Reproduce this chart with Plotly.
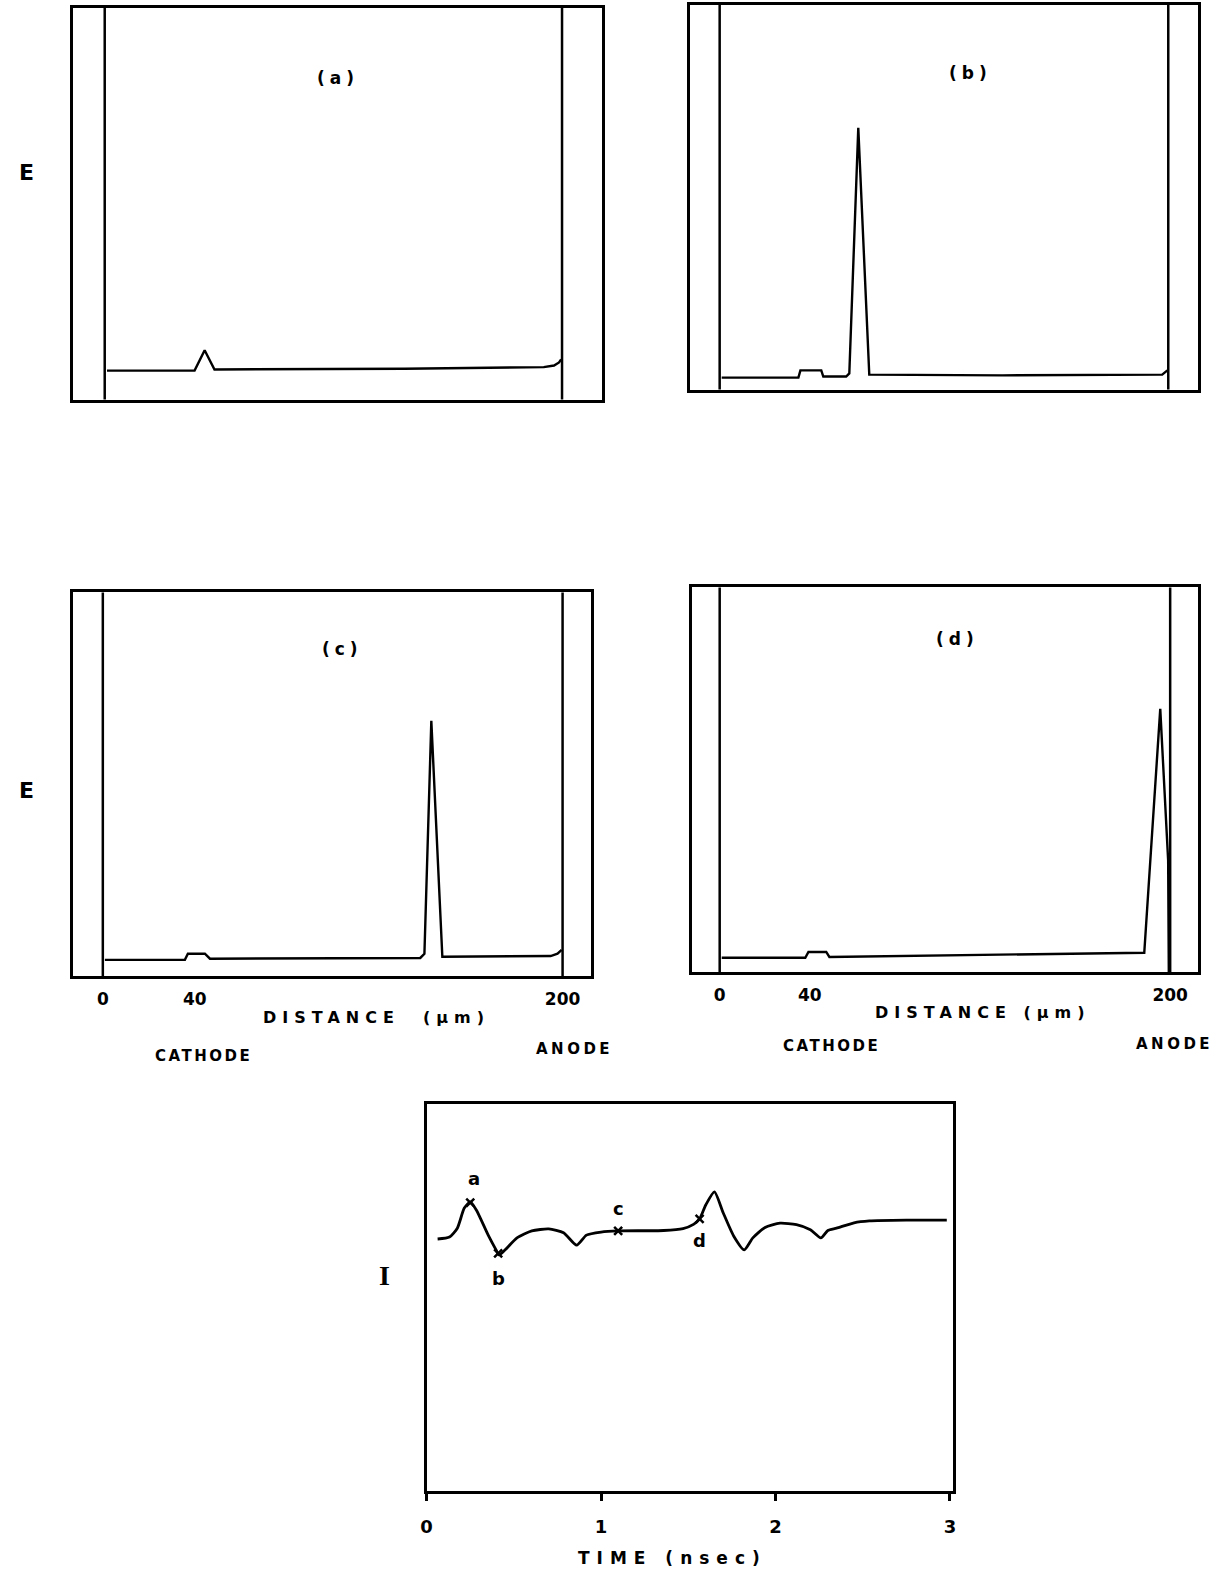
import plotly.graph_objects as go

# ---------------- data ----------------
# Electric field profiles E(x) across the device (arbitrary units), x in micrometres
x_a = [1, 39.3, 43.7, 48, 131, 192, 196.5, 198.7, 199.6]
E_a = [7.4, 7.4, 12.6, 7.7, 7.9, 8.3, 8.7, 9.5, 10.3]

x_b = [0.9, 35.1, 36.0, 45.3, 46.2, 56.4, 57.8, 61.8, 66.7, 126, 197.3, 199.6]
E_b = [3.1, 3.1, 5.0, 5.0, 3.4, 3.4, 4.2, 68.1, 3.9, 3.7, 3.9, 5.0]

x_c = [0.9, 35.7, 37.0, 44.4, 46.6, 138.1, 139.9, 142.9, 147.7, 194.8, 197.8, 199.6]
E_c = [4.2, 4.2, 5.8, 5.8, 4.5, 4.7, 5.8, 66.5, 5.0, 5.2, 5.8, 6.8]

x_d = [0.9, 38.0, 39.4, 47.3, 48.7, 188.5, 195.6, 199.1, 199.4]
E_d = [3.7, 3.7, 5.2, 5.2, 3.9, 5.0, 68.4, 29.0, 0.0]

# Terminal current I(t) (arbitrary units), t in ns
t_e = [0.063, 0.131, 0.176, 0.216, 0.25, 0.285, 0.353, 0.398, 0.415, 0.45, 0.518,
       0.603, 0.70, 0.785, 0.86, 0.916, 1.0, 1.098, 1.359, 1.47, 1.53, 1.565,
       1.60, 1.65, 1.70, 1.76, 1.821, 1.87, 1.94, 2.026, 2.12, 2.20, 2.26, 2.30,
       2.35, 2.45, 2.538, 2.75, 2.982]
I_e = [65.2, 65.7, 68.0, 73.2, 74.8, 72.7, 66.2, 62.4, 61.1, 62.4, 65.5,
       67.3, 67.8, 66.8, 63.6, 66.2, 67.0, 67.3, 67.4, 67.9, 69.0, 70.4,
       74.0, 77.4, 72.0, 66.0, 62.4, 65.5, 68.2, 69.3, 68.9, 67.6, 65.5, 67.4,
       68.0, 69.4, 69.9, 70.1, 70.1]

# Instants marked on the current curve, matching snapshots (a)-(d)
mark_names = ["a", "b", "c", "d"]
mark_t = [0.25, 0.41, 1.098, 1.565]
mark_I = [74.6, 61.5, 67.3, 70.4]

electrode_um = [0, 200]
dist_tickvals = [0, 40, 200]
dist_ticktext = ["0", "40", "200"]
time_tickvals = [0, 1, 2, 3]
time_ticktext = ["0", "1", "2", "3"]
panel_labels = ["(a)", "(b)", "(c)", "(d)"]

# ---------------- layout helpers ----------------
W, H = 1231, 1574
S = 1231 / 1226.0


def fx(p):
    return p * S / W


def fy(p):
    return 1 - p * S / H


FONT = "DejaVu Sans"
BLACK = "black"

fig = go.Figure()

# panel boxes in reference pixels (x0, x1, ytop, ybot) and x ranges
boxes = [
    (67, 598, 8, 398, [-13.97, 217.5]),
    (686, 1196, 5, 388, [-13.33, 213.3]),
    (67, 587, 590, 972, [-13.07, 212.4]),
    (688, 1196, 585, 968, [-12.4, 212.4]),
    (422, 950, 1100, 1485, [0, 3.017]),
]

series = [(x_a, E_a), (x_b, E_b), (x_c, E_c), (x_d, E_d), (t_e, I_e)]

for i, ((x0, x1, yt, yb, xr), (xs, ys)) in enumerate(zip(boxes, series)):
    n = i + 1
    xa = "x" if n == 1 else f"x{n}"
    ya = "y" if n == 1 else f"y{n}"
    line = dict(color=BLACK, width=2.8 if n == 5 else 2.4)
    if n == 5:
        line.update(shape="spline", smoothing=0.6)
    fig.add_trace(go.Scatter(x=xs, y=ys, mode="lines", xaxis=xa, yaxis=ya,
                             line=line, showlegend=False, hoverinfo="skip"))
    xkey = "xaxis" if n == 1 else f"xaxis{n}"
    ykey = "yaxis" if n == 1 else f"yaxis{n}"
    xaxis = dict(domain=[fx(x0), fx(x1)], range=xr, anchor=ya,
                 showline=True, mirror=True, linewidth=3, linecolor=BLACK,
                 showgrid=False, zeroline=False, fixedrange=True,
                 tickfont=dict(family=FONT, size=17, color=BLACK))
    if n in (3, 4):
        xaxis.update(tickmode="array", tickvals=dist_tickvals,
                     ticktext=[f"<b>{t}</b>" for t in dist_ticktext],
                     ticks="", ticklabelstandoff=6)
    elif n == 5:
        xaxis.update(tickmode="array", tickvals=time_tickvals,
                     ticktext=[f"<b>{t}</b>" for t in time_ticktext],
                     ticks="outside", ticklen=7, tickwidth=3, tickcolor=BLACK,
                     ticklabelstandoff=10, tickfont=dict(family=FONT, size=18, color=BLACK))
    else:
        xaxis.update(showticklabels=False, ticks="")
    yaxis = dict(domain=[fy(yb), fy(yt)], range=[0, 100], anchor=xa,
                 showline=True, mirror=True, linewidth=3, linecolor=BLACK,
                 showgrid=False, zeroline=False, showticklabels=False, ticks="",
                 fixedrange=True)
    fig.update_layout(**{xkey: xaxis, ykey: yaxis})

    if n <= 4:
        # electrode boundary lines
        for e in electrode_um:
            fig.add_shape(type="line", xref=xa, yref=f"{ya} domain",
                          x0=e, x1=e, y0=0, y1=1,
                          line=dict(color=BLACK, width=2.5))

# markers on the current curve
fig.add_trace(go.Scatter(x=mark_t, y=mark_I, mode="markers", xaxis="x5", yaxis="y5",
                         marker=dict(symbol="x-thin", size=8, color=BLACK,
                                     line=dict(color=BLACK, width=2.5)),
                         showlegend=False, hoverinfo="skip"))

ann = []


def A(text, x, y, size=15, angle=0, family=FONT, spacing=None):
    t = text
    if spacing:
        t = f"<span style='letter-spacing:{spacing}px'>{text}</span>"
    ann.append(dict(text=f"<b>{t}</b>", x=fx(x), y=fy(y), xref="paper", yref="paper",
                    showarrow=False, textangle=angle, xanchor="center", yanchor="middle",
                    font=dict(family=family, size=size, color=BLACK)))


# panel letters
A(panel_labels[0], 333, 78, 17, spacing=5)
A(panel_labels[1], 968, 73, 17, spacing=5)
A(panel_labels[2], 338, 646, 17, spacing=5)
A(panel_labels[3], 955, 636, 17, spacing=5)

# y labels
A("E", 21, 172, 22)
A("E", 21, 787, 22)

# distance titles
A("DISTANCE  (μm)", 372, 1013, 16, spacing=6)
A("DISTANCE (μm)", 980, 1008, 16, spacing=6)
A("CATHODE", 198, 1052, 15, spacing=2.5)
A("ANODE", 570, 1045, 15, spacing=3.5)
A("CATHODE", 828, 1042, 15, spacing=2.5)
A("ANODE", 1172, 1040, 15, spacing=3.5)

# current panel
A("I", 380, 1270, 28, family="Liberation Serif")
A("TIME (nsec)", 669, 1552, 17, spacing=7)
for name, t, I, dxp, dyp in zip(mark_names, mark_t, mark_I,
                                [4, 0, 0, 0], [-24, 25, -22, 22]):
    ann.append(dict(text=f"<b>{name}</b>", x=t, y=I, xref="x5", yref="y5",
                    xshift=dxp, yshift=-dyp, showarrow=False,
                    font=dict(family=FONT, size=18, color=BLACK)))

fig.update_layout(annotations=ann, width=W, height=H, autosize=False,
                  margin=dict(l=0, r=0, t=0, b=0),
                  paper_bgcolor="white", plot_bgcolor="white",
                  showlegend=False)

fig.write_html("out.html", config={"displayModeBar": False},
               post_script="document.body.style.margin='0px';")
